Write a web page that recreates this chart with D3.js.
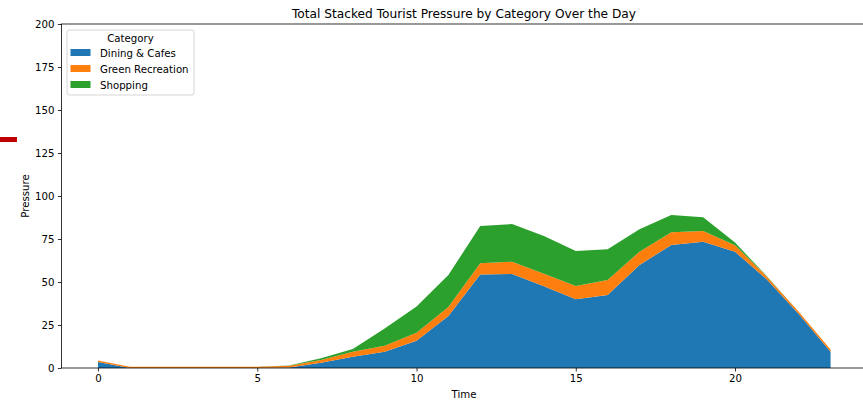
<!DOCTYPE html>
<html><head><meta charset="utf-8">
<script src="https://cdn.jsdelivr.net/npm/d3@7"></script>
<style>body{margin:0;background:#fff}svg{display:block;font-family:"DejaVu Sans",sans-serif}</style>
</head><body><svg id="c" width="863" height="402"></svg>
<script>
const hours = d3.range(0, 24);
const categories = ["Dining & Cafes", "Green Recreation", "Shopping"];
const dining = [3.5,0,0,0,0,0,0.3,3.1,6.6,9.5,15.9,30.2,54.4,54.7,47.5,39.9,42.4,59.9,71.5,73.4,67.6,51.5,31.4,9.5];
const greenRec = [0.9,0.7,0.7,0.7,0.7,0.7,1.0,1.5,2.9,3.5,4.6,5.2,6.5,7.1,7.3,7.8,8.8,7.7,7.4,6.3,3.8,1.6,1.3,1.3];
const shopping = [0,0,0,0,0,0,0.2,1.0,1.5,10,15.2,18.6,21.7,21.9,22,20.3,17.8,13,10.1,7.9,1.5,0.3,0,0];
const yTicks = [0,25,50,75,100,125,150,175,200];
const xTicks = [0,5,10,15,20];
const colors = ["#1f77b4","#ff7f0e","#2ca02c"];

const svg = d3.select("#c");
const L = 61.4, R = 867.2, T = 24, B = 368;
const x = d3.scaleLinear().domain([-1.15, 24.15]).range([L, R]);
const y = d3.scaleLinear().domain([0, 200]).range([B, T]);

const rows = hours.map((h, i) => ({h, "Dining & Cafes": dining[i], "Green Recreation": greenRec[i], "Shopping": shopping[i]}));
const series = d3.stack().keys(categories)(rows);
const area = d3.area().x(d => x(d.data.h)).y0(d => y(d[0])).y1(d => y(d[1]));
svg.append("g").selectAll("path").data(series).join("path")
  .attr("d", area).attr("fill", (d, i) => colors[i]);

// axes
const gx = svg.append("g").attr("transform", `translate(0,${B})`)
  .call(d3.axisBottom(x).tickValues(xTicks).tickFormat(d3.format("d")).tickSize(3.5).tickPadding(3.5));
const gy = svg.append("g").attr("transform", `translate(${L},0)`)
  .call(d3.axisLeft(y).tickValues(yTicks).tickFormat(d3.format("d")).tickSize(3.5).tickPadding(3.5));
[gx, gy].forEach(g => {
  g.select(".domain").remove();
  g.selectAll("text").attr("font-size", 10.2).attr("fill", "#000").attr("font-family", "DejaVu Sans");
  g.selectAll("line").attr("stroke", "#000").attr("stroke-width", 0.8);
});
// spines
svg.append("rect").attr("x", L).attr("y", T).attr("width", R - L).attr("height", B - T)
  .attr("fill", "none").attr("stroke", "#000").attr("stroke-width", 0.8);

// title and labels
svg.append("text").attr("x", 464).attr("y", 18).attr("text-anchor", "middle")
  .attr("font-size", 12.2).text("Total Stacked Tourist Pressure by Category Over the Day");
svg.append("text").attr("x", 464).attr("y", 398).attr("text-anchor", "middle")
  .attr("font-size", 10.2).text("Time");
svg.append("text").attr("transform", `translate(29,${(T + B) / 2}) rotate(-90)`).attr("text-anchor", "middle")
  .attr("font-size", 10.2).text("Pressure");

// legend
const lg = svg.append("g").attr("transform", "translate(67,30)");
lg.append("rect").attr("x", 0).attr("y", 0).attr("width", 127).attr("height", 65).attr("rx", 2)
  .attr("fill", "#fff").attr("fill-opacity", 0.8).attr("stroke", "#ccc").attr("stroke-width", 0.8);
lg.append("text").attr("x", 63.5).attr("y", 12).attr("text-anchor", "middle").attr("font-size", 10.2).text("Category");
categories.forEach((c, i) => {
  lg.append("rect").attr("x", 3.5).attr("y", 19 + i * 16).attr("width", 20).attr("height", 7).attr("fill", colors[i]);
  lg.append("text").attr("x", 33).attr("y", 27 + i * 16).attr("font-size", 10.2).text(c);
});

// stray red mark at left edge
svg.append("rect").attr("x", 0).attr("y", 137).attr("width", 17).attr("height", 5).attr("fill", "#c00000");
</script></body></html>
